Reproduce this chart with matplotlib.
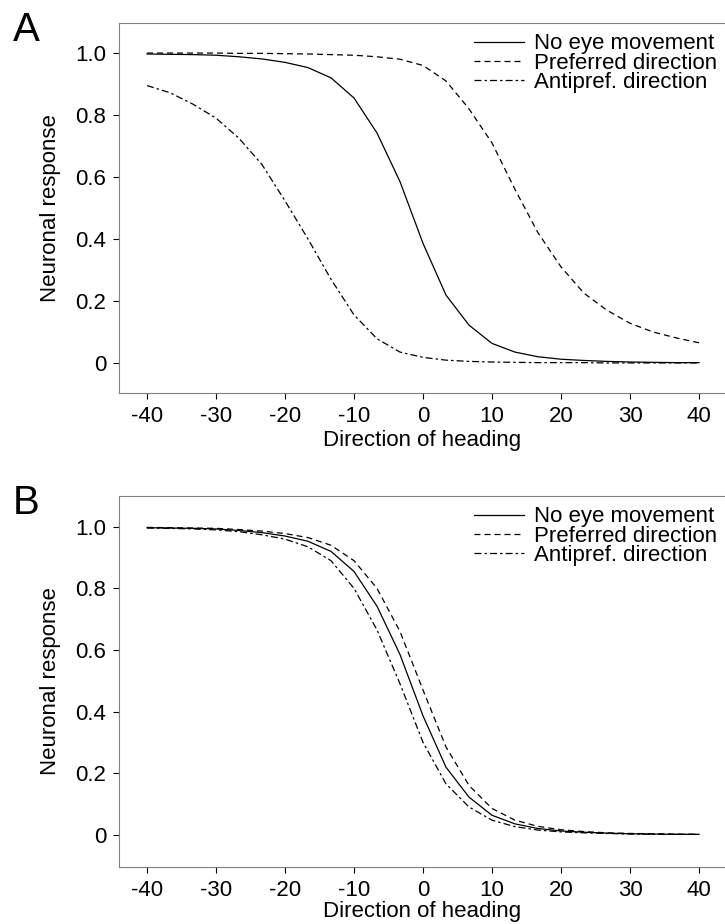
import numpy as np
import matplotlib
matplotlib.use("Agg")
import matplotlib.pyplot as plt

plt.rcParams['font.family'] = ['Liberation Sans', 'DejaVu Sans']
plt.rcParams['lines.scale_dashes'] = False
plt.rcParams['axes.unicode_minus'] = False

# direction of heading samples (25 points from -40 to 40)
heading = np.linspace(-40, 40, 25)

# panel A
a_none = [0.997, 0.996, 0.995, 0.993, 0.988, 0.981, 0.970, 0.953, 0.920, 0.855,
          0.742, 0.585, 0.386, 0.219, 0.122, 0.063, 0.035, 0.020, 0.012, 0.008,
          0.005, 0.003, 0.002, 0.001, 0.001]
a_pref = [1.000, 1.000, 1.000, 1.000, 0.999, 0.999, 0.998, 0.997, 0.995, 0.993,
          0.988, 0.980, 0.960, 0.910, 0.820, 0.710, 0.560, 0.420, 0.310, 0.225,
          0.170, 0.128, 0.100, 0.081, 0.065]
a_anti = [0.895, 0.872, 0.835, 0.790, 0.725, 0.640, 0.523, 0.400, 0.270, 0.155,
          0.078, 0.035, 0.018, 0.009, 0.005, 0.003, 0.002, 0.001, 0.001, 0.001,
          0.000, 0.000, 0.000, 0.000, 0.000]

# panel B
b_none = a_none
b_pref = [0.998, 0.997, 0.996, 0.995, 0.991, 0.986, 0.978, 0.965, 0.940, 0.890,
          0.800, 0.660, 0.470, 0.285, 0.160, 0.085, 0.047, 0.027, 0.016, 0.010,
          0.006, 0.004, 0.003, 0.002, 0.001]
b_anti = [0.996, 0.995, 0.993, 0.990, 0.984, 0.974, 0.960, 0.935, 0.890, 0.800,
          0.665, 0.490, 0.300, 0.165, 0.090, 0.047, 0.026, 0.015, 0.009, 0.006,
          0.004, 0.002, 0.0015, 0.001, 0.001]

labels = ["No eye movement", "Preferred direction", "Antipref. direction"]
xticks = [-40, -30, -20, -10, 0, 10, 20, 30, 40]
yticks = [0, 0.2, 0.4, 0.6, 0.8, 1.0]
yticklabels = ["0", "0.2", "0.4", "0.6", "0.8", "1.0"]

fs = 16
fig = plt.figure(figsize=(7.25, 9.24), dpi=100)
axA = fig.add_axes([119/725, 1-393/924, 1-119/725, 370/924])
axB = fig.add_axes([119/725, 1-867/924, 1-119/725, 371/924])

for ax, data, ylim, lpad in [(axA, (a_none, a_pref, a_anti), (-0.097, 1.097), 2),
                             (axB, (b_none, b_pref, b_anti), (-0.105, 1.10), 0)]:
    ax.plot(heading, data[0], color='k', lw=0.9, label=labels[0])
    ax.plot(heading, data[1], color='k', lw=0.9, dashes=(4.3, 2.9), label=labels[1])
    ax.plot(heading, data[2], color='k', lw=0.9, dashes=(5, 2.2, 1.8, 2.2), label=labels[2])
    ax.set_xlim(-44.06, 43.77)
    ax.set_ylim(*ylim)
    ax.set_xticks(xticks)
    ax.set_yticks(yticks)
    ax.set_yticklabels(yticklabels)
    ax.tick_params(labelsize=fs, length=4.3, width=0.8, pad=5, direction='out')
    ax.spines['right'].set_visible(False)
    for s in ['left', 'top', 'bottom']:
        ax.spines[s].set_color('0.5')
        ax.spines[s].set_linewidth(0.8)
    ax.set_xlabel("Direction of heading", fontsize=fs, labelpad=lpad)
    ax.set_ylabel("Neuronal response", fontsize=fs, labelpad=10)
    ax.legend(loc='upper right', bbox_to_anchor=(0.995, 0.984), frameon=False,
              fontsize=fs, handlelength=2.25, handletextpad=0.45,
              labelspacing=-0.07, borderpad=0.2, borderaxespad=0)

fig.text(13/725, 1-41/924, "A", fontsize=29, ha='left', va='baseline')
fig.text(13/725, 1-514/924, "B", fontsize=29, ha='left', va='baseline')

fig.savefig("out.png", dpi=100)
